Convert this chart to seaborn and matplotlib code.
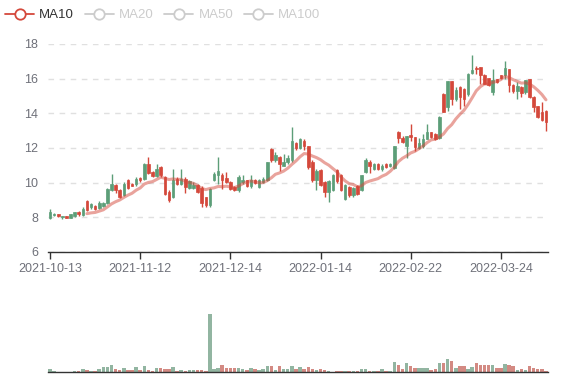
import numpy as np
import pandas as pd
import seaborn as sns
import matplotlib
matplotlib.use('Agg')
import matplotlib.pyplot as plt
from matplotlib.lines import Line2D

# Daily candles, 2021-10-13 .. 2022-04-12 (122 trading days)
opens = [7.96, 8.12, 8.19, 8.00, 8.06, 7.98, 8.06, 8.31, 8.12, 8.92,
         8.60, 8.65, 8.52, 8.65, 8.85, 9.56, 9.85, 9.60, 9.27, 10.17,
         9.94, 9.94, 10.27, 10.20, 11.09, 10.60, 10.40, 10.90, 10.32, 9.47,
         9.18, 10.23, 9.90, 10.23, 9.70, 9.72, 9.85, 9.70, 9.17, 8.70,
         10.13, 10.47, 10.42, 10.28, 10.03, 9.75, 9.56, 10.03, 10.13, 9.80,
         10.15, 9.75, 10.03, 10.13, 11.95, 11.33, 11.50, 10.99, 11.18, 11.28,
         12.28, 11.99, 12.43, 12.09, 11.20, 10.13, 10.75, 10.03, 9.46, 9.56,
         10.75, 10.42, 9.08, 9.75, 9.27, 9.80, 9.56, 10.61, 11.20, 10.80,
         11.05, 10.78, 11.10, 10.97, 10.85, 12.90, 12.60, 12.13, 12.75, 12.62,
         11.98, 12.13, 12.52, 12.90, 12.81, 12.56, 15.13, 14.36, 15.85, 14.80,
         15.52, 15.42, 15.13, 16.35, 16.64, 16.68, 16.23, 16.04, 15.23, 15.96,
         16.19, 16.19, 16.54, 15.65, 15.28, 15.52, 15.23, 15.96, 14.97, 14.41,
         14.07, 14.16]
closes = [8.31, 8.21, 8.08, 8.06, 7.96, 8.17, 8.31, 8.17, 8.46, 8.40,
          8.75, 8.46, 8.83, 8.83, 9.63, 9.92, 9.56, 9.17, 9.94, 9.71,
          9.83, 10.23, 10.13, 11.09, 10.55, 10.40, 10.80, 10.42, 9.37, 8.99,
          10.17, 9.90, 10.23, 9.75, 10.10, 9.88, 9.47, 8.80, 8.70, 9.65,
          10.51, 10.70, 10.13, 10.03, 9.65, 9.56, 10.32, 10.13, 9.80, 10.18,
          10.00, 10.13, 10.23, 11.18, 11.28, 11.60, 11.09, 11.20, 11.45, 12.39,
          11.99, 12.52, 12.09, 10.90, 10.15, 10.70, 9.84, 9.46, 10.08, 10.42,
          10.09, 9.56, 9.84, 9.27, 9.70, 9.36, 10.42, 11.33, 10.95, 11.10,
          10.78, 10.97, 10.88, 11.07, 12.09, 12.56, 12.36, 12.71, 12.62, 12.03,
          12.27, 12.52, 12.90, 12.62, 12.52, 13.81, 14.10, 15.85, 14.84, 15.32,
          14.94, 14.84, 16.29, 16.48, 16.54, 16.19, 15.71, 15.65, 15.94, 15.81,
          16.04, 16.62, 15.65, 15.26, 15.56, 15.19, 15.90, 14.94, 14.36, 13.78,
          13.64, 13.52]
highs = [8.50, 8.25, 8.20, 8.10, 8.08, 8.20, 8.33, 8.38, 8.60, 9.02,
         8.83, 8.69, 8.92, 8.87, 9.71, 10.50, 9.94, 9.65, 10.04, 10.23,
         9.98, 10.33, 10.30, 11.12, 11.47, 10.70, 11.08, 10.95, 10.40, 9.56,
         10.80, 10.32, 10.80, 10.32, 10.17, 10.03, 9.90, 9.78, 9.20, 9.70,
         10.61, 11.47, 10.57, 10.61, 10.08, 9.80, 10.42, 10.46, 10.18, 10.42,
         10.20, 10.23, 10.30, 11.20, 12.00, 11.76, 11.55, 11.67, 11.60, 13.20,
         12.37, 12.60, 12.52, 12.14, 11.30, 10.80, 10.80, 10.08, 10.13, 10.50,
         10.80, 10.50, 9.90, 9.80, 9.75, 9.85, 10.45, 11.40, 11.30, 11.15,
         11.15, 11.05, 11.15, 11.12, 12.12, 13.00, 12.70, 12.71, 13.39, 12.62,
         12.56, 12.81, 13.39, 12.95, 12.85, 13.85, 15.15, 15.88, 15.88, 15.52,
         15.56, 15.45, 16.30, 17.35, 16.74, 16.70, 16.25, 16.06, 16.58, 16.00,
         16.20, 17.03, 16.56, 15.70, 15.81, 15.58, 15.92, 16.00, 15.00, 14.43,
         14.65, 14.20]
lows = [7.92, 8.06, 8.04, 7.90, 7.94, 7.94, 8.00, 8.06, 8.06, 8.37,
        8.50, 8.40, 8.46, 8.60, 8.79, 9.50, 9.40, 9.12, 9.23, 9.65,
        9.80, 9.81, 10.05, 10.17, 10.50, 10.30, 10.30, 10.32, 9.28, 8.90,
        9.10, 9.85, 9.85, 9.40, 9.65, 9.65, 9.42, 8.60, 8.62, 8.60,
        10.07, 9.94, 9.65, 9.98, 9.60, 9.50, 9.46, 9.94, 9.75, 9.70,
        9.95, 9.72, 9.98, 10.10, 11.20, 11.18, 10.70, 10.95, 11.09, 11.20,
        11.90, 11.95, 11.90, 10.80, 10.05, 9.56, 9.80, 9.17, 8.88, 9.50,
        10.00, 9.50, 9.00, 9.20, 9.20, 9.30, 9.50, 10.55, 10.55, 10.75,
        10.72, 10.70, 10.82, 10.90, 10.78, 12.30, 12.30, 11.40, 12.42, 11.84,
        11.94, 11.98, 12.50, 12.55, 12.45, 12.50, 14.05, 14.16, 14.49, 14.74,
        14.26, 14.40, 15.00, 16.29, 16.29, 15.70, 15.68, 15.60, 15.03, 15.75,
        16.00, 15.96, 15.23, 15.20, 14.80, 14.97, 15.13, 14.90, 14.07, 13.74,
        13.58, 13.00]
volumes = [8, 2, 1, 1, 1, 1, 2, 2, 8, 6,
           3, 4, 9, 14, 15, 21, 8, 7, 11, 6,
           6, 15, 7, 18, 7, 4, 11, 12, 9, 9,
           14, 4, 6, 4, 6, 5, 5, 6, 4, 169,
           10, 13, 21, 13, 11, 11, 12, 10, 7, 11,
           8, 7, 9, 18, 18, 7, 18, 10, 10, 18,
           9, 15, 8, 16, 9, 6, 8, 5, 2, 1,
           3, 3, 2, 3, 2, 2, 8, 8, 3, 3,
           3, 8, 3, 2, 30, 21, 8, 25, 18, 12,
           11, 11, 11, 6, 9, 25, 26, 39, 31, 12,
           18, 17, 10, 14, 26, 21, 19, 19, 20, 13,
           13, 24, 19, 18, 7, 8, 6, 17, 12, 9,
           9, 4]
tick_labels = ['2021-10-13', '2021-11-12', '2021-12-14',
               '2022-01-14', '2022-02-22', '2022-03-24']
legend_names = ['MA10', 'MA20', 'MA50', 'MA100']

UP = '#5c9e78'
DOWN = '#d4483b'
AXIS = '#333333'
LABEL = '#6e7079'

df = pd.DataFrame({'open': opens, 'close': closes, 'high': highs,
                   'low': lows, 'volume': volumes})
df['i'] = np.arange(len(df))
df['dir'] = np.where(df['close'] >= df['open'], 'up', 'down')
df['ma10'] = df['close'].rolling(10).mean()

sns.set_theme(style='white')
plt.rcParams['font.family'] = ['Liberation Sans', 'DejaVu Sans']

fig = plt.figure(figsize=(5.77, 3.8), dpi=100)
ax = fig.add_axes([48 / 577, 128 / 380, 500 / 577, 208 / 380])
axv = fig.add_axes([48 / 577, 8 / 380, 500 / 577, 59 / 380])

# candles
colors = np.where(df['dir'] == 'up', UP, DOWN)
body_lo = np.minimum(df['open'], df['close'])
body_h = np.maximum(np.abs(df['close'] - df['open']), 0.04)
ax.vlines(df['i'], df['low'], df['high'], colors=colors, lw=1, zorder=3)
ax.bar(df['i'], body_h, bottom=body_lo, width=0.62, color=colors,
       edgecolor=colors, lw=0.5, zorder=4)

# MA10
sns.lineplot(data=df, x='i', y='ma10', ax=ax, color=DOWN, alpha=0.5,
             lw=2.2, zorder=5)

ax.set_xlim(-0.5, len(df) - 0.5)
ax.set_ylim(6, 18)
ax.set_yticks(np.arange(6, 19, 2))
ax.set_xticks(np.arange(0, len(df), 22)[:len(tick_labels)])
ax.set_xticklabels(tick_labels)
ax.set_xlabel('')
ax.set_ylabel('')
ax.yaxis.grid(True, linestyle=(0, (4, 4)), color='#e0e0e0', lw=1)
ax.xaxis.grid(False)
for s in ['top', 'right', 'left']:
    ax.spines[s].set_visible(False)
ax.spines['bottom'].set_color(AXIS)
ax.spines['bottom'].set_linewidth(1)
ax.tick_params(axis='x', length=5, width=1, color=AXIS, labelcolor=LABEL,
               labelsize=9, pad=3, bottom=True)
ax.tick_params(axis='y', length=0, labelcolor=LABEL, labelsize=9, pad=7)

# volume
sns.barplot(data=df, x='i', y='volume', hue='dir',
            palette={'up': UP, 'down': DOWN}, dodge=False, width=0.85,
            alpha=0.7, legend=False, linewidth=0, ax=axv)
axv.set_xlim(-0.5, len(df) - 0.5)
axv.set_ylim(0, max(volumes) * 1.02)
axv.set_xticks([])
axv.set_yticks([])
axv.set_xlabel('')
axv.set_ylabel('')
for s in ['top', 'right', 'left']:
    axv.spines[s].set_visible(False)
axv.spines['bottom'].set_color(AXIS)
axv.spines['bottom'].set_linewidth(1)

# legend (only MA10 active)
handles = []
for k, name in enumerate(legend_names):
    c = DOWN if k == 0 else '#cccccc'
    handles.append(Line2D([], [], color=c, lw=1.3, marker='o', markersize=7.5,
                          markerfacecolor='white', markeredgecolor=c,
                          markeredgewidth=1.3))
leg = ax.legend(handles, legend_names, ncol=4, loc='upper left',
                bbox_to_anchor=(5 / 577, 1 - 9 / 380),
                bbox_transform=fig.transFigure, frameon=False, fontsize=9.5,
                handlelength=2.2, handletextpad=0.4, columnspacing=0.8,
                borderpad=0, borderaxespad=0)
for k, t in enumerate(leg.get_texts()):
    t.set_color('#333333' if k == 0 else '#cccccc')

fig.savefig('out.png', dpi=100)
